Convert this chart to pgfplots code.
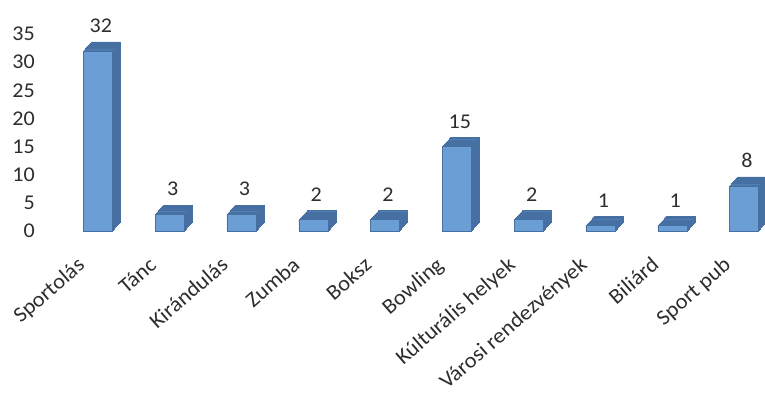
\documentclass[border=0pt]{standalone}
\usepackage{fontspec}
\setmainfont{Carlito}[FakeStretch=1.05]
\usepackage{pgfplots}
\pgfplotsset{compat=1.18}
\definecolor{barfront}{RGB}{106,158,212}
\definecolor{bardepth}{RGB}{80,127,180}
\definecolor{baredge}{RGB}{70,112,162}
\definecolor{txt}{RGB}{45,45,45}
\begin{document}
\begin{tikzpicture}
\useasboundingbox (0,0) rectangle (765pt,400pt);
\begin{axis}[
  at={(62pt,169pt)}, anchor=south west,
  scale only axis, width=703.6pt, height=197pt,
  xmin=-0.5, xmax=9.3, ymin=0, ymax=35,
  clip=false,
  axis line style={draw=none},
  tick style={draw=none},
  major tick length=0pt,
  ytick={0,5,...,35},
  xtick={0,...,9},
  xticklabels={Sportolás,Tánc,Kirándulás,Zumba,Boksz,Bowling,Kúlturális helyek,Városi rendezvények,Biliárd,Sport pub},
  /pgf/number format/assume math mode=true,
  yticklabel style={font=\fontsize{21}{24}\selectfont, text=txt, anchor=east, inner sep=0pt, xshift=-27pt},
  xticklabel style={font=\fontsize{21.5}{24}\selectfont, text=txt, inner sep=0pt, xshift=-12pt, yshift=-36pt, rotate=41, anchor=base east},
  ybar, bar width=29pt,
  nodes near coords,
  every node near coord/.append style={font=\fontsize{21}{24}\selectfont, text=txt, anchor=south, inner sep=0pt, yshift=18pt, xshift=3pt},
]
\addplot[fill=barfront, draw=baredge, line width=0.5pt,
  preaction={fill=bardepth, draw=baredge, line width=0.5pt, transform canvas={xshift=8pt, yshift=9pt}},
  preaction={fill=bardepth, transform canvas={xshift=7pt, yshift=7.875pt}},
  preaction={fill=bardepth, transform canvas={xshift=6pt, yshift=6.75pt}},
  preaction={fill=bardepth, transform canvas={xshift=5pt, yshift=5.625pt}},
  preaction={fill=bardepth, transform canvas={xshift=4pt, yshift=4.5pt}},
  preaction={fill=bardepth, transform canvas={xshift=3pt, yshift=3.375pt}},
  preaction={fill=bardepth, transform canvas={xshift=2pt, yshift=2.25pt}},
  preaction={fill=bardepth, transform canvas={xshift=1pt, yshift=1.125pt}}]
  coordinates {(0,32) (1,3) (2,3) (3,2) (4,2) (5,15) (6,2) (7,1) (8,1) (9,8)};
\end{axis}
\end{tikzpicture}
\end{document}
